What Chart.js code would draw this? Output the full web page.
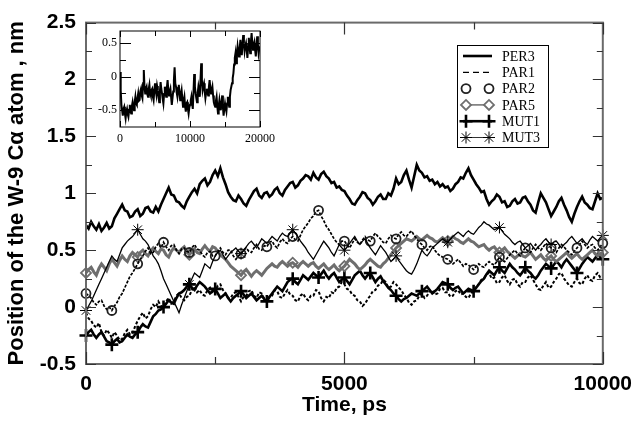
<!DOCTYPE html>
<html><head><meta charset="utf-8">
<script src="https://cdn.jsdelivr.net/npm/chart.js@4.4.1/dist/chart.umd.min.js"></script>
<style>
html,body{margin:0;padding:0;background:#fff;}
#wrap{position:relative;width:640px;height:433px;overflow:hidden;}
#main{position:absolute;left:0;top:0;}
#inset{position:absolute;left:88px;top:20px;}
</style></head><body>
<div id="wrap"><canvas id="main" width="640" height="433"></canvas><canvas id="inset" width="192" height="132"></canvas></div>
<script>
// ---------- data ----------
const seriesNames = ['PER3','PAR1','PAR2','PAR5','MUT1','MUT3'];
const timeStepPs = 50; // sampling interval of the main-plot series (ps)
const per3 = [
0.72,0.69,0.75,0.71,0.68,0.73,0.67,0.70,0.74,0.69,0.71,0.78,0.82,0.86,0.90,0.85,0.84,0.79,0.80,0.84,
0.86,0.80,0.82,0.87,0.88,0.84,0.83,0.88,0.84,0.90,0.95,1.00,1.05,0.99,0.98,0.93,0.92,0.89,0.87,0.93,
0.97,1.01,1.04,1.00,1.08,1.11,1.13,1.07,1.10,1.16,1.20,1.15,1.22,1.14,1.08,1.01,0.97,0.94,0.93,0.98,
0.95,0.91,0.89,0.94,0.98,1.02,1.04,0.98,0.96,1.00,1.01,0.97,0.99,1.03,1.05,1.00,0.98,1.03,1.06,1.09,
1.10,1.05,1.07,1.11,1.13,1.16,1.15,1.12,1.18,1.14,1.12,1.17,1.19,1.15,1.13,1.09,1.10,1.05,1.06,1.03,
1.02,0.98,0.95,0.91,0.90,0.94,0.97,1.01,1.00,0.96,0.94,0.90,0.93,0.97,0.99,0.95,0.95,1.00,0.98,1.04,
1.13,1.08,1.10,1.16,1.20,1.12,1.05,1.15,1.25,1.20,1.18,1.14,1.15,1.11,1.12,1.08,1.10,1.06,1.08,1.05,
1.06,1.02,1.04,1.08,1.10,1.14,1.13,1.18,1.22,1.16,1.12,1.08,1.05,1.01,1.02,0.95,0.90,0.93,0.95,0.99,
0.97,0.92,0.93,0.88,0.89,0.93,0.95,0.91,0.92,0.96,0.97,0.93,0.90,0.85,0.83,0.92,1.00,0.96,0.92,0.86,
0.80,0.84,0.88,0.93,0.96,0.90,0.85,0.79,0.75,0.82,0.88,0.93,0.97,0.92,0.90,0.87,0.86,0.93,1.00,0.95,
0.96];
const par1 = [
-0.05,-0.10,-0.12,-0.16,-0.18,-0.14,-0.22,-0.25,-0.20,-0.23,-0.27,-0.22,-0.25,-0.29,-0.28,-0.23,-0.20,-0.24,-0.23,-0.17,
-0.12,-0.08,-0.05,-0.10,-0.08,-0.02,0.02,0.00,0.05,0.01,0.00,0.05,0.08,0.03,0.05,0.10,0.12,0.08,0.06,0.09,
0.10,0.15,0.18,0.13,0.15,0.11,0.10,0.15,0.17,0.12,0.14,0.19,0.20,0.15,0.12,0.08,0.08,0.12,0.13,0.09,
0.05,0.09,0.10,0.14,0.15,0.10,0.08,0.13,0.12,0.07,0.05,0.09,0.10,0.15,0.14,0.09,0.08,0.12,0.15,0.11,
0.10,0.06,0.05,0.10,0.12,0.08,0.06,0.10,0.10,0.15,0.14,0.08,0.05,0.09,0.08,0.13,0.12,0.17,0.18,0.22,
0.20,0.16,0.15,0.11,0.10,0.06,0.05,0.01,0.03,0.07,0.10,0.14,0.15,0.19,0.20,0.24,0.22,0.17,0.18,0.22,
0.20,0.17,0.15,0.11,0.08,0.04,0.02,0.05,0.06,0.10,0.12,0.08,0.10,0.14,0.15,0.11,0.12,0.16,0.17,0.13,
0.13,0.09,0.10,0.14,0.15,0.11,0.12,0.09,0.08,0.12,0.14,0.18,0.20,0.24,0.25,0.29,0.30,0.25,0.26,0.21,
0.22,0.26,0.28,0.23,0.20,0.24,0.25,0.20,0.18,0.22,0.22,0.26,0.28,0.24,0.20,0.16,0.15,0.19,0.22,0.17,
0.18,0.22,0.25,0.29,0.30,0.25,0.22,0.19,0.18,0.22,0.25,0.21,0.20,0.25,0.28,0.24,0.23,0.28,0.30,0.26,
0.27];
const par2 = [
0.12,0.10,0.08,0.04,0.02,0.05,0.06,0.01,-0.02,0.00,-0.03,0.01,0.04,0.09,0.12,0.17,0.22,0.27,0.30,0.34,
0.38,0.42,0.45,0.49,0.52,0.47,0.48,0.53,0.56,0.52,0.57,0.53,0.50,0.54,0.55,0.50,0.47,0.51,0.52,0.49,
0.48,0.52,0.55,0.51,0.50,0.46,0.44,0.48,0.49,0.45,0.45,0.49,0.52,0.48,0.46,0.50,0.50,0.45,0.42,0.45,
0.47,0.50,0.52,0.49,0.48,0.52,0.55,0.51,0.50,0.54,0.53,0.57,0.58,0.54,0.52,0.57,0.60,0.57,0.56,0.60,
0.62,0.59,0.58,0.63,0.68,0.71,0.74,0.78,0.80,0.84,0.85,0.80,0.76,0.71,0.68,0.64,0.60,0.57,0.55,0.58,
0.58,0.55,0.52,0.56,0.60,0.57,0.55,0.59,0.62,0.59,0.58,0.62,0.65,0.62,0.60,0.57,0.56,0.60,0.63,0.61,
0.60,0.64,0.66,0.63,0.62,0.65,0.67,0.63,0.60,0.57,0.55,0.52,0.50,0.53,0.54,0.50,0.47,0.45,0.44,0.43,
0.42,0.40,0.38,0.40,0.42,0.39,0.36,0.38,0.37,0.35,0.33,0.36,0.38,0.36,0.35,0.38,0.40,0.38,0.37,0.40,
0.44,0.41,0.40,0.43,0.46,0.48,0.50,0.47,0.45,0.49,0.52,0.49,0.48,0.52,0.55,0.52,0.50,0.53,0.56,0.54,
0.52,0.50,0.48,0.52,0.55,0.53,0.50,0.48,0.46,0.49,0.52,0.55,0.58,0.55,0.52,0.54,0.55,0.52,0.50,0.53,
0.56];
const par5 = [
0.30,0.33,0.35,0.31,0.28,0.34,0.38,0.35,0.32,0.38,0.42,0.39,0.36,0.41,0.45,0.42,0.40,0.45,0.48,0.46,
0.44,0.48,0.50,0.47,0.45,0.49,0.52,0.49,0.47,0.51,0.50,0.46,0.44,0.49,0.52,0.50,0.48,0.51,0.53,0.49,
0.46,0.49,0.51,0.48,0.47,0.51,0.54,0.51,0.49,0.53,0.52,0.49,0.46,0.44,0.42,0.39,0.36,0.34,0.32,0.30,
0.28,0.31,0.33,0.30,0.27,0.30,0.32,0.30,0.28,0.31,0.34,0.36,0.38,0.36,0.35,0.38,0.40,0.38,0.36,0.38,
0.39,0.37,0.35,0.38,0.40,0.38,0.36,0.38,0.39,0.36,0.34,0.36,0.38,0.35,0.33,0.35,0.37,0.34,0.32,0.34,
0.36,0.39,0.42,0.40,0.38,0.35,0.33,0.35,0.37,0.40,0.42,0.40,0.38,0.36,0.35,0.38,0.40,0.43,0.46,0.49,
0.52,0.54,0.56,0.58,0.60,0.59,0.58,0.60,0.62,0.60,0.59,0.61,0.63,0.61,0.60,0.58,0.57,0.59,0.61,0.59,
0.58,0.60,0.62,0.60,0.59,0.57,0.56,0.58,0.60,0.58,0.57,0.55,0.53,0.54,0.55,0.52,0.50,0.52,0.53,0.50,
0.48,0.50,0.52,0.49,0.47,0.45,0.43,0.45,0.47,0.45,0.44,0.46,0.48,0.45,0.42,0.44,0.46,0.43,0.41,0.43,
0.45,0.42,0.40,0.42,0.44,0.46,0.48,0.45,0.43,0.45,0.47,0.44,0.42,0.44,0.46,0.48,0.50,0.47,0.45,0.47,
0.48];
const mut1 = [
-0.25,-0.22,-0.20,-0.24,-0.27,-0.24,-0.22,-0.26,-0.30,-0.31,-0.33,-0.30,-0.28,-0.31,-0.30,-0.27,-0.24,-0.26,-0.27,-0.24,
-0.22,-0.18,-0.15,-0.17,-0.18,-0.13,-0.08,-0.06,-0.03,-0.02,0.00,0.03,0.06,0.04,0.03,0.08,0.12,0.13,0.15,0.18,
0.20,0.17,0.15,0.19,0.22,0.20,0.18,0.15,0.12,0.14,0.16,0.12,0.08,0.10,0.12,0.08,0.05,0.08,0.10,0.12,
0.14,0.11,0.08,0.10,0.12,0.09,0.06,0.08,0.10,0.07,0.05,0.09,0.12,0.15,0.18,0.16,0.14,0.18,0.22,0.24,
0.25,0.22,0.20,0.24,0.28,0.26,0.24,0.27,0.30,0.28,0.26,0.29,0.32,0.28,0.25,0.28,0.30,0.26,0.22,0.24,
0.26,0.23,0.20,0.24,0.28,0.30,0.32,0.28,0.25,0.28,0.30,0.26,0.22,0.25,0.27,0.23,0.20,0.17,0.15,0.12,
0.10,0.07,0.05,0.07,0.08,0.10,0.12,0.11,0.10,0.12,0.14,0.16,0.18,0.15,0.12,0.14,0.16,0.19,0.22,0.21,
0.20,0.17,0.15,0.17,0.18,0.15,0.12,0.14,0.16,0.15,0.14,0.17,0.20,0.23,0.25,0.29,0.32,0.30,0.28,0.32,
0.35,0.32,0.30,0.34,0.38,0.35,0.33,0.30,0.28,0.31,0.35,0.32,0.30,0.27,0.25,0.28,0.32,0.35,0.38,0.36,
0.34,0.37,0.40,0.38,0.35,0.39,0.42,0.39,0.36,0.33,0.30,0.34,0.38,0.41,0.44,0.42,0.40,0.43,0.46,0.44,
0.42];
const mut3 = [
-0.03,0.01,0.05,0.10,0.15,0.20,0.25,0.30,0.35,0.40,0.45,0.42,0.40,0.46,0.52,0.55,0.58,0.60,0.62,0.65,
0.68,0.64,0.60,0.58,0.55,0.50,0.45,0.42,0.38,0.32,0.25,0.20,0.15,0.10,0.05,0.00,-0.05,0.02,0.08,0.14,
0.20,0.25,0.30,0.28,0.26,0.32,0.38,0.36,0.34,0.40,0.45,0.48,0.50,0.46,0.42,0.45,0.48,0.50,0.52,0.49,
0.47,0.50,0.53,0.56,0.58,0.55,0.52,0.56,0.60,0.58,0.56,0.59,0.62,0.60,0.58,0.62,0.65,0.63,0.62,0.65,
0.68,0.65,0.62,0.58,0.55,0.52,0.48,0.45,0.42,0.46,0.50,0.54,0.58,0.55,0.52,0.48,0.45,0.50,0.55,0.52,
0.50,0.53,0.56,0.59,0.62,0.58,0.55,0.58,0.60,0.56,0.52,0.49,0.46,0.50,0.54,0.51,0.48,0.44,0.40,0.42,
0.45,0.41,0.38,0.35,0.32,0.30,0.29,0.33,0.38,0.44,0.50,0.47,0.45,0.48,0.52,0.54,0.56,0.58,0.60,0.58,
0.57,0.60,0.62,0.64,0.66,0.64,0.62,0.65,0.67,0.65,0.64,0.67,0.70,0.72,0.75,0.73,0.72,0.70,0.68,0.69,
0.70,0.67,0.64,0.62,0.60,0.57,0.55,0.57,0.58,0.55,0.52,0.54,0.56,0.53,0.50,0.53,0.55,0.58,0.60,0.57,
0.55,0.57,0.58,0.55,0.52,0.55,0.57,0.60,0.62,0.59,0.56,0.58,0.60,0.57,0.55,0.59,0.62,0.60,0.58,0.61,
0.63];
const insetStepPs = 100; // sampling interval of the inset series (ps)
const insetValues = [
0.07,-0.20,-0.42,-0.50,-0.58,-0.48,-0.45,-0.55,-0.62,-0.52,-0.48,-0.56,-0.60,-0.50,-0.42,-0.52,-0.55,-0.44,-0.38,-0.46,
-0.50,-0.38,-0.30,-0.40,-0.42,-0.32,-0.25,-0.36,-0.35,-0.22,-0.18,-0.28,-0.32,-0.10,0.10,-0.15,-0.25,-0.18,-0.15,-0.26,
-0.30,-0.18,-0.12,-0.24,-0.28,-0.20,-0.18,-0.30,-0.35,-0.22,-0.10,-0.20,-0.27,-0.14,-0.20,-0.30,-0.38,-0.22,-0.08,-0.18,
-0.25,-0.33,-0.40,-0.26,-0.15,-0.24,-0.30,-0.16,-0.05,-0.20,-0.28,-0.22,-0.18,-0.30,-0.42,-0.32,-0.22,-0.05,0.14,-0.10,
-0.15,-0.24,-0.30,-0.18,-0.12,-0.25,-0.35,-0.26,-0.20,-0.32,-0.45,-0.36,-0.30,-0.44,-0.52,-0.40,-0.38,-0.48,-0.55,-0.46,
-0.42,-0.36,-0.30,-0.40,-0.48,-0.22,0.04,-0.15,-0.25,-0.32,-0.38,-0.24,-0.15,-0.22,-0.30,-0.05,0.20,-0.05,-0.20,-0.14,
-0.10,-0.22,-0.32,-0.24,-0.18,-0.24,-0.28,-0.15,-0.05,-0.16,-0.25,-0.20,-0.15,-0.28,-0.38,-0.42,-0.45,-0.36,-0.30,-0.44,
-0.55,-0.44,-0.35,-0.44,-0.50,-0.38,-0.28,-0.45,-0.58,-0.48,-0.40,-0.47,-0.52,-0.40,-0.30,-0.38,-0.45,-0.30,-0.20,-0.15,
-0.10,-0.02,0.05,0.18,0.28,0.35,0.20,0.33,0.45,0.36,0.30,0.42,0.55,0.44,0.32,0.48,0.62,0.50,0.38,0.46,
0.50,0.40,0.28,0.44,0.58,0.45,0.35,0.52,0.65,0.50,0.40,0.48,0.52,0.40,0.30,0.45,0.60,0.48,0.35,0.42,
0.45];

const xTickValues = [0, 5000, 10000];
const xTickLabels = ['0', '5000', '10000'];
const xMinorTicks = [2500, 7500];
const yTickValues = [-0.5, 0, 0.5, 1, 1.5, 2, 2.5];
const yTickLabels = ['-0.5', '0', '0.5', '1', '1.5', '2', '2.5'];
const yMinorTicks = [-0.25, 0.25, 0.75, 1.25, 1.75, 2.25];
const insetXTickValues = [0, 10000, 20000];
const insetXTickLabels = ['0', '10000', '20000'];
const insetXMinorTicks = [5000, 15000];
const insetYTickValues = [-0.5, 0, 0.5];
const insetYTickLabels = ['-0.5', '0', '0.5'];
const insetYMinorTicks = [-0.25, 0.25];

const xTitle = 'Time, ps';
const yTitle = 'Position of the W-9 C\u03b1 atom , nm';

// ---------- helpers ----------
const toPoints = (arr, step) => arr.map((v, i) => ({x: i * step, y: v}));
const every = (n, r) => (c) => (c.dataIndex % n === 0 ? r : 0);

function framePlugin(id, o) {
  return {
    id,
    afterDatasetsDraw(chart) {
      const {ctx, chartArea: a, scales: {x, y}} = chart;
      ctx.save();
      ctx.strokeStyle = o.color;
      ctx.lineWidth = o.width;
      ctx.setLineDash([]);
      ctx.strokeRect(a.left, a.top, a.right - a.left, a.bottom - a.top);
      ctx.lineWidth = o.tickWidth;
      ctx.strokeStyle = o.tickColor;
      ctx.beginPath();
      const xt = (vals, len) => vals.forEach(v => {
        const p = Math.round(x.getPixelForValue(v)) + 0.5;
        ctx.moveTo(p, a.bottom); ctx.lineTo(p, a.bottom - len);
        ctx.moveTo(p, a.top); ctx.lineTo(p, a.top + len);
      });
      const yt = (vals, len) => vals.forEach(v => {
        const p = Math.round(y.getPixelForValue(v)) + 0.5;
        ctx.moveTo(a.left, p); ctx.lineTo(a.left + len, p);
        ctx.moveTo(a.right, p); ctx.lineTo(a.right - len, p);
      });
      xt(o.xMajor, o.xMajorLen); xt(o.xMinor, o.xMinorLen);
      yt(o.yMajor, o.yMajorLen); yt(o.yMinor, o.yMinorLen);
      ctx.stroke();
      ctx.restore();
    }
  };
}

const legendPlugin = {
  id: 'boxLegend',
  afterDraw(chart) {
    const ctx = chart.ctx;
    ctx.save();
    ctx.fillStyle = '#fff';
    ctx.fillRect(457, 45, 91, 102);
    ctx.strokeStyle = '#000';
    ctx.lineWidth = 1;
    ctx.strokeRect(457.5, 45.5, 91, 102);
    chart.data.datasets.forEach((ds, i) => {
      const y = 56 + i * 16.3;
      if (ds.legendLine !== false) {
        ctx.beginPath();
        ctx.setLineDash(ds.legendDash || []);
        ctx.strokeStyle = ds.borderColor;
        ctx.lineWidth = ds.legendWidth || ds.borderWidth;
        ctx.moveTo(463, y); ctx.lineTo(492, y);
        ctx.stroke();
      }
      ctx.setLineDash([]);
      if (ds.legendRadius) {
        ctx.strokeStyle = ds.pointBorderColor;
        ctx.fillStyle = '#fff';
        ctx.lineWidth = ds.pointBorderWidth;
        [466, 489].forEach(px => Chart.helpers.drawPoint(ctx, {pointStyle: ds.pointStyle, radius: ds.legendRadius, borderWidth: ds.pointBorderWidth, rotation: 0}, px, y));
      }
      ctx.fillStyle = '#000';
      ctx.font = '14px "Liberation Serif"';
      ctx.textAlign = 'left';
      ctx.textBaseline = 'middle';
      ctx.fillText(ds.label, 502, y + 1);
    });
    ctx.restore();
  }
};

const boldFont = {family: 'Liberation Sans', weight: 'bold', size: 21};
const titleFontY = {family: 'Liberation Sans', weight: 'bold', size: 22};
const serifFont = {family: 'Liberation Serif', size: 12};

// ---------- main chart ----------
const datasets = [
  {label: seriesNames[0], data: toPoints(per3, timeStepPs), borderColor: '#000', borderWidth: 2.6, pointRadius: 0, order: 6},
  {label: seriesNames[1], data: toPoints(par1, timeStepPs), borderColor: '#000', borderWidth: 2, borderDash: [3, 2], legendDash: [6, 4], legendWidth: 1.3, pointRadius: 0, order: 3},
  {label: seriesNames[2], data: toPoints(par2, timeStepPs), borderColor: '#000', borderWidth: 1.7, borderDash: [3, 1.5],
    pointStyle: 'circle', pointRadius: every(10, 4.5), pointBorderWidth: 1.8, pointBorderColor: '#222', pointBackgroundColor: 'rgba(0,0,0,0)', legendRadius: 4.5, legendLine: false, order: 2},
  {label: seriesNames[3], data: toPoints(par5, timeStepPs), borderColor: '#6e6e6e', borderWidth: 3,
    pointStyle: 'rectRot', pointRadius: every(20, 5), pointBorderWidth: 1.8, pointBorderColor: '#6e6e6e', pointBackgroundColor: 'rgba(0,0,0,0)', legendRadius: 5, legendWidth: 1.5, order: 4},
  {label: seriesNames[4], data: toPoints(mut1, timeStepPs), borderColor: '#000', borderWidth: 2.6,
    pointStyle: 'cross', pointRadius: every(10, 6.5), pointBorderWidth: 2.6, pointBorderColor: '#000', legendRadius: 6.5, order: 5},
  {label: seriesNames[5], data: toPoints(mut3, timeStepPs), borderColor: '#000', borderWidth: 1.3,
    pointStyle: 'star', pointRadius: every(20, 6), pointBorderWidth: 1, pointBorderColor: '#000', legendRadius: 6, legendWidth: 0.8, order: 1}
];

new Chart(document.getElementById('main'), {
  type: 'line',
  data: {datasets: datasets.map(d => Object.assign({tension: 0, fill: false, clip: 10, pointHoverRadius: 0}, d))},
  options: {
    responsive: false, animation: false, events: [], devicePixelRatio: 1,
    layout: {padding: {left: 0, right: 35, top: 12, bottom: 0}},
    plugins: {legend: {display: false}, tooltip: {enabled: false}},
    scales: {
      x: {
        type: 'linear', min: 0, max: 10000,
        afterBuildTicks: s => { s.ticks = xTickValues.map(v => ({value: v})); },
        ticks: {callback: (v, i) => xTickLabels[i], font: boldFont, color: '#000', padding: 8, maxRotation: 0, autoSkip: false},
        grid: {display: false, drawTicks: false}, border: {display: false},
        title: {display: true, text: xTitle, font: boldFont, color: '#000', padding: {top: 0, bottom: 15}},
        afterFit: s => { s.height = 69; }
      },
      y: {
        type: 'linear', min: -0.5, max: 2.5,
        afterBuildTicks: s => { s.ticks = yTickValues.map(v => ({value: v})); },
        ticks: {callback: (v, i) => yTickLabels[i], font: boldFont, color: '#000', padding: 10, autoSkip: false},
        grid: {display: false, drawTicks: false}, border: {display: false},
        title: {display: true, text: yTitle, font: titleFontY, color: '#000', padding: {top: 4, bottom: 0}},
        afterFit: s => { s.width = 86; }
      }
    }
  },
  plugins: [framePlugin('mainFrame', {color: '#6a6a6a', width: 2, tickColor: '#333', tickWidth: 1.2,
    xMajor: xTickValues, xMinor: xMinorTicks, yMajor: yTickValues, yMinor: yMinorTicks,
    xMajorLen: 12, xMinorLen: 7, yMajorLen: 10, yMinorLen: 6}), legendPlugin]
});

// ---------- inset chart ----------
new Chart(document.getElementById('inset'), {
  type: 'line',
  data: {datasets: [{label: 'PER3 (20 ns)', data: toPoints(insetValues, insetStepPs), borderColor: '#000', borderWidth: 2, pointRadius: 0, tension: 0, fill: false}]},
  options: {
    responsive: false, animation: false, events: [], devicePixelRatio: 1,
    layout: {padding: {left: 0, right: 16, top: 11, bottom: 0}},
    plugins: {legend: {display: false}, tooltip: {enabled: false}},
    scales: {
      x: {
        type: 'linear', min: 0, max: 20000,
        afterBuildTicks: s => { s.ticks = insetXTickValues.map(v => ({value: v})); },
        ticks: {callback: (v, i) => insetXTickLabels[i], font: serifFont, color: '#000', padding: 5, maxRotation: 0, autoSkip: false},
        grid: {display: false, drawTicks: false}, border: {display: false},
        afterFit: s => { s.height = 25; }
      },
      y: {
        type: 'linear', min: -0.75, max: 0.68,
        afterBuildTicks: s => { s.ticks = insetYTickValues.map(v => ({value: v})); },
        ticks: {callback: (v, i) => insetYTickLabels[i], font: serifFont, color: '#000', padding: 3, autoSkip: false},
        grid: {display: false, drawTicks: false}, border: {display: false},
        afterFit: s => { s.width = 32; }
      }
    }
  },
  plugins: [framePlugin('insetFrame', {color: '#000', width: 1, tickColor: '#000', tickWidth: 1,
    xMajor: insetXTickValues, xMinor: insetXMinorTicks, yMajor: insetYTickValues, yMinor: insetYMinorTicks,
    xMajorLen: 6, xMinorLen: 5, yMajorLen: 11, yMinorLen: 6})]
});
</script>
</body></html>
